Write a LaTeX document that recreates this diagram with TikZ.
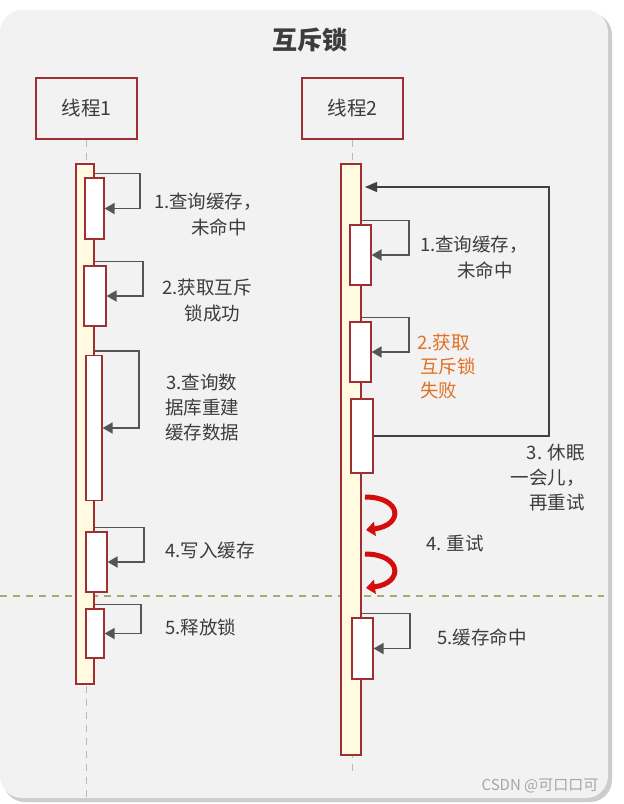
\documentclass[tikz,border=0pt]{standalone}
\usepackage{fontspec}
\setmainfont{Noto Sans CJK SC}
\usetikzlibrary{arrows.meta, positioning, calc}

\definecolor{boxred}{RGB}{158,48,52}
\definecolor{barfill}{RGB}{255,250,224}
\definecolor{panelgray}{RGB}{242,242,242}
\definecolor{callgray}{RGB}{85,85,85}
\definecolor{textgray}{RGB}{60,60,60}
\definecolor{failorange}{RGB}{226,112,36}
\definecolor{splitolive}{RGB}{165,175,105}
\definecolor{retryred}{RGB}{214,12,12}

\begin{document}
\begin{tikzpicture}[x=1pt,y=-1pt,>={Triangle[length=10pt,width=11pt]},
  thread/.style={draw=boxred,line width=1.4pt,minimum width=101pt,minimum height=61pt,inner sep=0,text=textgray,font=\fontsize{19.5}{22}\selectfont},
  bar/.style={draw=boxred,fill=barfill,line width=1.2pt,inner sep=0},
  act/.style={draw=boxred,fill=white,line width=1.2pt,inner sep=0},
  life/.style={draw=gray!55,line width=1.2pt,dash pattern=on 7pt off 6pt},
  call/.style={draw=callgray,line width=1.8pt,->},
  lbl/.style={text=textgray,font=\fontsize{18.5}{26}\selectfont,align=center,inner sep=0},
  retry/.style={draw=retryred,line width=5pt,-{Triangle[length=9pt,width=14pt]}}]
% panel
  \useasboundingbox (0,0) rectangle (624,804);
  \fill[white] (0,0) rectangle (624,804);
  \fill[gray!40,rounded corners=22pt] (3,13) rectangle (612,802);
  \fill[panelgray,rounded corners=22pt] (0,10) rectangle (608,798);
  \node[font=\fontsize{25}{30}\selectfont\bfseries,text=textgray] (title) at (310,40) {互斥锁};

% the two threads and their lifelines
  \node[thread] (t1) at (86.5,108.5) {线程1};
  \node[thread] (t2) at (352.5,108.5) {线程2};
  \coordinate (end1) at (86.5,797);
  \coordinate (end2) at (352.5,776);
  \draw[life] (t1.south) -- (end1);
  \draw[life] (t2.south) -- (end2);

% first line of work and second line of work
  \coordinate (splitL) at (0,596);
  \coordinate (splitR) at (604,596);
  \draw[splitolive,line width=1.3pt,dash pattern=on 7pt off 6pt] (splitL) -- (splitR);

% activation bars
  \node[bar,minimum width=18pt,minimum height=520pt] (bar1) at (85,424) {};
  \node[bar,minimum width=20pt,minimum height=591pt] (bar2) at (351,459.5) {};

  \node[act,minimum width=19pt,minimum height=61pt]  (a1) at (94.5,208.5) {};
  \node[act,minimum width=22pt,minimum height=60pt]  (a2) at (95,296) {};
  \node[act,minimum width=16pt,minimum height=145pt] (a3) at (94,428) {};
  \node[act,minimum width=21pt,minimum height=60pt]  (a4) at (96.5,562) {};
  \node[act,minimum width=18pt,minimum height=49pt]  (a5) at (95,633.5) {};

  \node[act,minimum width=21pt,minimum height=60pt]  (b1) at (360.5,255) {};
  \node[act,minimum width=21pt,minimum height=60pt]  (b2) at (360.5,352) {};
  \node[act,minimum width=22pt,minimum height=74pt]  (b3) at (362,436) {};
  \node[act,minimum width=21pt,minimum height=61pt]  (b4) at (362.5,648.5) {};

% self calls
  \foreach \b/\d in {a1/45,a2/48,a3/44,a4/49,a5/46}
    \draw[call] ($(bar1.east |- \b.north)+(0,-4)$) -- ++(\d,0) |- (\b.east);
  \foreach \b/\d in {b1/47,b2/47,b4/48}
    \draw[call] ($(bar2.east |- \b.north)+(0,-4)$) -- ++(\d,0) |- (\b.east);

% sleep and try again
  \coordinate (wake) at (549,187);
  \coordinate (back) at (365,187);
  \draw[black!75,line width=1.1pt,-{Triangle[length=12pt,width=10pt]}] (b3.east) -| (wake) -- (back);

  \coordinate (r1s) at (365,497);
  \coordinate (r1e) at (366,530);
  \coordinate (r2s) at (365,554);
  \coordinate (r2e) at (366,588);
  \draw[retry] (r1s) .. controls (402,497) and (404,525) .. (r1e);
  \draw[retry] (r2s) .. controls (402,554) and (404,583) .. (r2e);

% labels
  \node[lbl] (l1) at (208,214) {1.查询缓存，\\\hspace*{1.2em}未命中};
  \node[lbl] (l2) at (207,301) {2.获取互斥\\\hspace*{0.6em}锁成功};
  \node[lbl,font=\fontsize{18.5}{25}\selectfont] (l3) at (202,407) {3.查询数\\据库重建\\缓存数据};
  \node[lbl] (l4) at (210,550) {4.写入缓存};
  \node[lbl] (l5) at (201,627) {5.释放锁};

  \node[lbl] (r1) at (474,257.5) {1.查询缓存，\\\hspace*{1.2em}未命中};
  \node[lbl,text=failorange,align=left,anchor=west,font=\fontsize{18.5}{24}\selectfont] (r2) at (417,366) {2.获取\\\,互斥锁\\\,失败};
  \node[lbl,align=right,anchor=east,font=\fontsize{18.5}{25}\selectfont] (r3) at (585,478) {3. 休眠\\一会儿，\\再重试};
  \node[lbl] (r4) at (455,543) {4. 重试};
  \node[lbl] (r5) at (482,637) {5.缓存命中};

  \node[text=gray!70,font=\fontsize{15}{18}\selectfont] (mark) at (540,786) {CSDN @可口口可};
\end{tikzpicture}
\end{document}
